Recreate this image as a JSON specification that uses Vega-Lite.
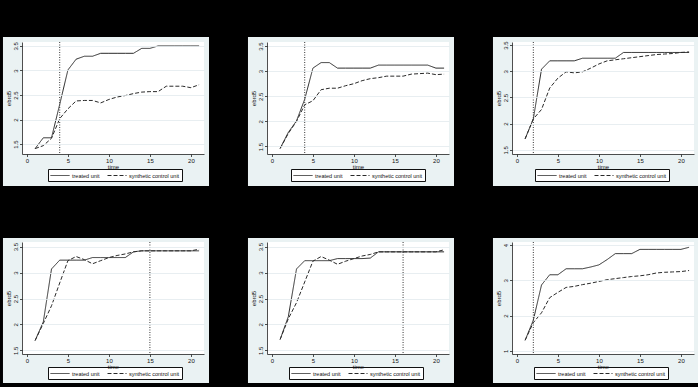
{
  "$schema": "https://vega.github.io/schema/vega-lite/v6.json",
  "background": "black",
  "padding": {"left": 2, "top": 36, "right": 0, "bottom": 5},
  "autosize": {"type": "pad"},
  "columns": 3,
  "bounds": "flush",
  "spacing": {"row": 88, "column": 63},
  "datasets": {
    "d": [
      {"panel":1,"time":1,"series":"treated unit","value":1.41},{"panel":1,"time":2,"series":"treated unit","value":1.63},{"panel":1,"time":3,"series":"treated unit","value":1.63},{"panel":1,"time":4,"series":"treated unit","value":2.31},{"panel":1,"time":5,"series":"treated unit","value":3.01},{"panel":1,"time":6,"series":"treated unit","value":3.23},{"panel":1,"time":7,"series":"treated unit","value":3.29},{"panel":1,"time":8,"series":"treated unit","value":3.29},{"panel":1,"time":9,"series":"treated unit","value":3.35},{"panel":1,"time":10,"series":"treated unit","value":3.35},{"panel":1,"time":11,"series":"treated unit","value":3.35},{"panel":1,"time":12,"series":"treated unit","value":3.35},{"panel":1,"time":13,"series":"treated unit","value":3.35},{"panel":1,"time":14,"series":"treated unit","value":3.45},{"panel":1,"time":15,"series":"treated unit","value":3.45},{"panel":1,"time":16,"series":"treated unit","value":3.5},{"panel":1,"time":17,"series":"treated unit","value":3.5},{"panel":1,"time":18,"series":"treated unit","value":3.5},{"panel":1,"time":19,"series":"treated unit","value":3.5},{"panel":1,"time":20,"series":"treated unit","value":3.5},{"panel":1,"time":21,"series":"treated unit","value":3.5},
      {"panel":1,"time":1,"series":"synthetic control unit","value":1.41},{"panel":1,"time":2,"series":"synthetic control unit","value":1.47},{"panel":1,"time":3,"series":"synthetic control unit","value":1.62},{"panel":1,"time":4,"series":"synthetic control unit","value":2.02},{"panel":1,"time":5,"series":"synthetic control unit","value":2.22},{"panel":1,"time":6,"series":"synthetic control unit","value":2.38},{"panel":1,"time":7,"series":"synthetic control unit","value":2.39},{"panel":1,"time":8,"series":"synthetic control unit","value":2.39},{"panel":1,"time":9,"series":"synthetic control unit","value":2.34},{"panel":1,"time":10,"series":"synthetic control unit","value":2.41},{"panel":1,"time":11,"series":"synthetic control unit","value":2.46},{"panel":1,"time":12,"series":"synthetic control unit","value":2.49},{"panel":1,"time":13,"series":"synthetic control unit","value":2.53},{"panel":1,"time":14,"series":"synthetic control unit","value":2.56},{"panel":1,"time":15,"series":"synthetic control unit","value":2.57},{"panel":1,"time":16,"series":"synthetic control unit","value":2.57},{"panel":1,"time":17,"series":"synthetic control unit","value":2.68},{"panel":1,"time":18,"series":"synthetic control unit","value":2.68},{"panel":1,"time":19,"series":"synthetic control unit","value":2.68},{"panel":1,"time":20,"series":"synthetic control unit","value":2.65},{"panel":1,"time":21,"series":"synthetic control unit","value":2.71},

      {"panel":2,"time":1,"series":"treated unit","value":1.46},{"panel":2,"time":2,"series":"treated unit","value":1.78},{"panel":2,"time":3,"series":"treated unit","value":2.01},{"panel":2,"time":4,"series":"treated unit","value":2.44},{"panel":2,"time":5,"series":"treated unit","value":3.06},{"panel":2,"time":6,"series":"treated unit","value":3.17},{"panel":2,"time":7,"series":"treated unit","value":3.17},{"panel":2,"time":8,"series":"treated unit","value":3.06},{"panel":2,"time":9,"series":"treated unit","value":3.06},{"panel":2,"time":10,"series":"treated unit","value":3.06},{"panel":2,"time":11,"series":"treated unit","value":3.06},{"panel":2,"time":12,"series":"treated unit","value":3.06},{"panel":2,"time":13,"series":"treated unit","value":3.12},{"panel":2,"time":14,"series":"treated unit","value":3.12},{"panel":2,"time":15,"series":"treated unit","value":3.12},{"panel":2,"time":16,"series":"treated unit","value":3.12},{"panel":2,"time":17,"series":"treated unit","value":3.12},{"panel":2,"time":18,"series":"treated unit","value":3.12},{"panel":2,"time":19,"series":"treated unit","value":3.12},{"panel":2,"time":20,"series":"treated unit","value":3.06},{"panel":2,"time":21,"series":"treated unit","value":3.06},
      {"panel":2,"time":1,"series":"synthetic control unit","value":1.46},{"panel":2,"time":2,"series":"synthetic control unit","value":1.76},{"panel":2,"time":3,"series":"synthetic control unit","value":2.0},{"panel":2,"time":4,"series":"synthetic control unit","value":2.33},{"panel":2,"time":5,"series":"synthetic control unit","value":2.41},{"panel":2,"time":6,"series":"synthetic control unit","value":2.63},{"panel":2,"time":7,"series":"synthetic control unit","value":2.66},{"panel":2,"time":8,"series":"synthetic control unit","value":2.66},{"panel":2,"time":9,"series":"synthetic control unit","value":2.71},{"panel":2,"time":10,"series":"synthetic control unit","value":2.75},{"panel":2,"time":11,"series":"synthetic control unit","value":2.81},{"panel":2,"time":12,"series":"synthetic control unit","value":2.85},{"panel":2,"time":13,"series":"synthetic control unit","value":2.87},{"panel":2,"time":14,"series":"synthetic control unit","value":2.9},{"panel":2,"time":15,"series":"synthetic control unit","value":2.9},{"panel":2,"time":16,"series":"synthetic control unit","value":2.9},{"panel":2,"time":17,"series":"synthetic control unit","value":2.94},{"panel":2,"time":18,"series":"synthetic control unit","value":2.95},{"panel":2,"time":19,"series":"synthetic control unit","value":2.96},{"panel":2,"time":20,"series":"synthetic control unit","value":2.93},{"panel":2,"time":21,"series":"synthetic control unit","value":2.94},

      {"panel":3,"time":1,"series":"treated unit","value":1.71},{"panel":3,"time":2,"series":"treated unit","value":2.09},{"panel":3,"time":3,"series":"treated unit","value":3.04},{"panel":3,"time":4,"series":"treated unit","value":3.2},{"panel":3,"time":5,"series":"treated unit","value":3.2},{"panel":3,"time":6,"series":"treated unit","value":3.2},{"panel":3,"time":7,"series":"treated unit","value":3.2},{"panel":3,"time":8,"series":"treated unit","value":3.25},{"panel":3,"time":9,"series":"treated unit","value":3.25},{"panel":3,"time":10,"series":"treated unit","value":3.25},{"panel":3,"time":11,"series":"treated unit","value":3.25},{"panel":3,"time":12,"series":"treated unit","value":3.25},{"panel":3,"time":13,"series":"treated unit","value":3.36},{"panel":3,"time":14,"series":"treated unit","value":3.36},{"panel":3,"time":15,"series":"treated unit","value":3.36},{"panel":3,"time":16,"series":"treated unit","value":3.36},{"panel":3,"time":17,"series":"treated unit","value":3.36},{"panel":3,"time":18,"series":"treated unit","value":3.36},{"panel":3,"time":19,"series":"treated unit","value":3.36},{"panel":3,"time":20,"series":"treated unit","value":3.36},{"panel":3,"time":21,"series":"treated unit","value":3.36},
      {"panel":3,"time":1,"series":"synthetic control unit","value":1.71},{"panel":3,"time":2,"series":"synthetic control unit","value":2.09},{"panel":3,"time":3,"series":"synthetic control unit","value":2.27},{"panel":3,"time":4,"series":"synthetic control unit","value":2.68},{"panel":3,"time":5,"series":"synthetic control unit","value":2.87},{"panel":3,"time":6,"series":"synthetic control unit","value":2.99},{"panel":3,"time":7,"series":"synthetic control unit","value":2.97},{"panel":3,"time":8,"series":"synthetic control unit","value":2.99},{"panel":3,"time":9,"series":"synthetic control unit","value":3.06},{"panel":3,"time":10,"series":"synthetic control unit","value":3.14},{"panel":3,"time":11,"series":"synthetic control unit","value":3.2},{"panel":3,"time":12,"series":"synthetic control unit","value":3.22},{"panel":3,"time":13,"series":"synthetic control unit","value":3.24},{"panel":3,"time":14,"series":"synthetic control unit","value":3.26},{"panel":3,"time":15,"series":"synthetic control unit","value":3.28},{"panel":3,"time":16,"series":"synthetic control unit","value":3.3},{"panel":3,"time":17,"series":"synthetic control unit","value":3.32},{"panel":3,"time":18,"series":"synthetic control unit","value":3.33},{"panel":3,"time":19,"series":"synthetic control unit","value":3.34},{"panel":3,"time":20,"series":"synthetic control unit","value":3.36},{"panel":3,"time":21,"series":"synthetic control unit","value":3.37},

      {"panel":4,"time":1,"series":"treated unit","value":1.69},{"panel":4,"time":2,"series":"treated unit","value":2.05},{"panel":4,"time":3,"series":"treated unit","value":3.07},{"panel":4,"time":4,"series":"treated unit","value":3.24},{"panel":4,"time":5,"series":"treated unit","value":3.24},{"panel":4,"time":6,"series":"treated unit","value":3.24},{"panel":4,"time":7,"series":"treated unit","value":3.24},{"panel":4,"time":8,"series":"treated unit","value":3.29},{"panel":4,"time":9,"series":"treated unit","value":3.29},{"panel":4,"time":10,"series":"treated unit","value":3.29},{"panel":4,"time":11,"series":"treated unit","value":3.29},{"panel":4,"time":12,"series":"treated unit","value":3.29},{"panel":4,"time":13,"series":"treated unit","value":3.4},{"panel":4,"time":14,"series":"treated unit","value":3.42},{"panel":4,"time":15,"series":"treated unit","value":3.42},{"panel":4,"time":16,"series":"treated unit","value":3.42},{"panel":4,"time":17,"series":"treated unit","value":3.42},{"panel":4,"time":18,"series":"treated unit","value":3.42},{"panel":4,"time":19,"series":"treated unit","value":3.42},{"panel":4,"time":20,"series":"treated unit","value":3.42},{"panel":4,"time":21,"series":"treated unit","value":3.42},
      {"panel":4,"time":1,"series":"synthetic control unit","value":1.69},{"panel":4,"time":2,"series":"synthetic control unit","value":2.02},{"panel":4,"time":3,"series":"synthetic control unit","value":2.36},{"panel":4,"time":4,"series":"synthetic control unit","value":2.8},{"panel":4,"time":5,"series":"synthetic control unit","value":3.23},{"panel":4,"time":6,"series":"synthetic control unit","value":3.31},{"panel":4,"time":7,"series":"synthetic control unit","value":3.25},{"panel":4,"time":8,"series":"synthetic control unit","value":3.17},{"panel":4,"time":9,"series":"synthetic control unit","value":3.23},{"panel":4,"time":10,"series":"synthetic control unit","value":3.29},{"panel":4,"time":11,"series":"synthetic control unit","value":3.33},{"panel":4,"time":12,"series":"synthetic control unit","value":3.36},{"panel":4,"time":13,"series":"synthetic control unit","value":3.4},{"panel":4,"time":14,"series":"synthetic control unit","value":3.42},{"panel":4,"time":15,"series":"synthetic control unit","value":3.42},{"panel":4,"time":16,"series":"synthetic control unit","value":3.42},{"panel":4,"time":17,"series":"synthetic control unit","value":3.42},{"panel":4,"time":18,"series":"synthetic control unit","value":3.42},{"panel":4,"time":19,"series":"synthetic control unit","value":3.42},{"panel":4,"time":20,"series":"synthetic control unit","value":3.42},{"panel":4,"time":21,"series":"synthetic control unit","value":3.45},

      {"panel":5,"time":1,"series":"treated unit","value":1.71},{"panel":5,"time":2,"series":"treated unit","value":2.15},{"panel":5,"time":3,"series":"treated unit","value":3.07},{"panel":5,"time":4,"series":"treated unit","value":3.23},{"panel":5,"time":5,"series":"treated unit","value":3.23},{"panel":5,"time":6,"series":"treated unit","value":3.23},{"panel":5,"time":7,"series":"treated unit","value":3.23},{"panel":5,"time":8,"series":"treated unit","value":3.27},{"panel":5,"time":9,"series":"treated unit","value":3.27},{"panel":5,"time":10,"series":"treated unit","value":3.27},{"panel":5,"time":11,"series":"treated unit","value":3.27},{"panel":5,"time":12,"series":"treated unit","value":3.28},{"panel":5,"time":13,"series":"treated unit","value":3.4},{"panel":5,"time":14,"series":"treated unit","value":3.4},{"panel":5,"time":15,"series":"treated unit","value":3.4},{"panel":5,"time":16,"series":"treated unit","value":3.4},{"panel":5,"time":17,"series":"treated unit","value":3.4},{"panel":5,"time":18,"series":"treated unit","value":3.4},{"panel":5,"time":19,"series":"treated unit","value":3.4},{"panel":5,"time":20,"series":"treated unit","value":3.4},{"panel":5,"time":21,"series":"treated unit","value":3.4},
      {"panel":5,"time":1,"series":"synthetic control unit","value":1.71},{"panel":5,"time":2,"series":"synthetic control unit","value":2.11},{"panel":5,"time":3,"series":"synthetic control unit","value":2.42},{"panel":5,"time":4,"series":"synthetic control unit","value":2.82},{"panel":5,"time":5,"series":"synthetic control unit","value":3.22},{"panel":5,"time":6,"series":"synthetic control unit","value":3.31},{"panel":5,"time":7,"series":"synthetic control unit","value":3.24},{"panel":5,"time":8,"series":"synthetic control unit","value":3.16},{"panel":5,"time":9,"series":"synthetic control unit","value":3.22},{"panel":5,"time":10,"series":"synthetic control unit","value":3.27},{"panel":5,"time":11,"series":"synthetic control unit","value":3.32},{"panel":5,"time":12,"series":"synthetic control unit","value":3.35},{"panel":5,"time":13,"series":"synthetic control unit","value":3.4},{"panel":5,"time":14,"series":"synthetic control unit","value":3.4},{"panel":5,"time":15,"series":"synthetic control unit","value":3.4},{"panel":5,"time":16,"series":"synthetic control unit","value":3.4},{"panel":5,"time":17,"series":"synthetic control unit","value":3.4},{"panel":5,"time":18,"series":"synthetic control unit","value":3.4},{"panel":5,"time":19,"series":"synthetic control unit","value":3.4},{"panel":5,"time":20,"series":"synthetic control unit","value":3.4},{"panel":5,"time":21,"series":"synthetic control unit","value":3.44},

      {"panel":6,"time":1,"series":"treated unit","value":1.3},{"panel":6,"time":2,"series":"treated unit","value":1.87},{"panel":6,"time":3,"series":"treated unit","value":2.87},{"panel":6,"time":4,"series":"treated unit","value":3.16},{"panel":6,"time":5,"series":"treated unit","value":3.16},{"panel":6,"time":6,"series":"treated unit","value":3.33},{"panel":6,"time":7,"series":"treated unit","value":3.33},{"panel":6,"time":8,"series":"treated unit","value":3.33},{"panel":6,"time":9,"series":"treated unit","value":3.38},{"panel":6,"time":10,"series":"treated unit","value":3.44},{"panel":6,"time":11,"series":"treated unit","value":3.59},{"panel":6,"time":12,"series":"treated unit","value":3.76},{"panel":6,"time":13,"series":"treated unit","value":3.76},{"panel":6,"time":14,"series":"treated unit","value":3.76},{"panel":6,"time":15,"series":"treated unit","value":3.88},{"panel":6,"time":16,"series":"treated unit","value":3.88},{"panel":6,"time":17,"series":"treated unit","value":3.88},{"panel":6,"time":18,"series":"treated unit","value":3.88},{"panel":6,"time":19,"series":"treated unit","value":3.88},{"panel":6,"time":20,"series":"treated unit","value":3.88},{"panel":6,"time":21,"series":"treated unit","value":3.94},
      {"panel":6,"time":1,"series":"synthetic control unit","value":1.3},{"panel":6,"time":2,"series":"synthetic control unit","value":1.8},{"panel":6,"time":3,"series":"synthetic control unit","value":2.08},{"panel":6,"time":4,"series":"synthetic control unit","value":2.51},{"panel":6,"time":5,"series":"synthetic control unit","value":2.66},{"panel":6,"time":6,"series":"synthetic control unit","value":2.8},{"panel":6,"time":7,"series":"synthetic control unit","value":2.83},{"panel":6,"time":8,"series":"synthetic control unit","value":2.88},{"panel":6,"time":9,"series":"synthetic control unit","value":2.92},{"panel":6,"time":10,"series":"synthetic control unit","value":2.97},{"panel":6,"time":11,"series":"synthetic control unit","value":3.02},{"panel":6,"time":12,"series":"synthetic control unit","value":3.05},{"panel":6,"time":13,"series":"synthetic control unit","value":3.08},{"panel":6,"time":14,"series":"synthetic control unit","value":3.11},{"panel":6,"time":15,"series":"synthetic control unit","value":3.13},{"panel":6,"time":16,"series":"synthetic control unit","value":3.16},{"panel":6,"time":17,"series":"synthetic control unit","value":3.21},{"panel":6,"time":18,"series":"synthetic control unit","value":3.23},{"panel":6,"time":19,"series":"synthetic control unit","value":3.24},{"panel":6,"time":20,"series":"synthetic control unit","value":3.25},{"panel":6,"time":21,"series":"synthetic control unit","value":3.28}
    ]
  },
  "concat": [
    {
      "width": 182, "height": 112,
      "layer": [
        {"data": {"values": [{}]}, "mark": {"type": "rect", "fill": "#eaf2f3"},
         "encoding": {"x": {"datum": -2.92, "type": "quantitative", "title": "time"}, "x2": {"datum": 22.21}, "y": {"datum": 0.648, "type": "quantitative", "title": "ebrd5"}, "y2": {"datum": 3.682}}},
        {"data": {"values": [{}]}, "mark": {"type": "rect", "fill": "#ffffff"},
         "encoding": {"x": {"datum": -0.6, "type": "quantitative", "title": "time"}, "x2": {"datum": 21.6}, "y": {"datum": 1.30, "type": "quantitative", "title": "ebrd5"}, "y2": {"datum": 3.58}}},
        {"data": {"name": "d"}, "transform": [{"filter": "datum.panel == 1"}],
         "mark": {"type": "line", "color": "#2a2a2a", "strokeWidth": 1},
         "encoding": {
           "x": {"field": "time", "type": "quantitative", "title": "time", "scale": {"domain": [-0.6, 21.6], "nice": false, "zero": false}, "axis": {"values": [0, 5, 10, 15, 20], "tickCount": 20, "format": "d", "zindex": 2}},
           "y": {"field": "value", "type": "quantitative", "title": "ebrd5", "scale": {"domain": [1.30, 3.58], "nice": false, "zero": false}, "axis": {"values": [1.5, 2, 2.5, 3, 3.5], "tickCount": 20, "format": ".2~g", "zindex": 2}},
           "strokeDash": {"field": "series", "type": "nominal", "scale": {"domain": ["treated unit", "synthetic control unit"], "range": [[1, 0], [4, 2]]},
             "legend": {"orient": "none", "legendX": 26, "legendY": 127, "direction": "horizontal", "columns": 2, "title": null, "symbolType": "M-1,0H3.75", "symbolSize": 64, "symbolStrokeColor": "#2a2a2a", "symbolStrokeWidth": 1, "labelOffset": 13, "columnPadding": 5, "gridAlign": "none"}}
         }},
        {"data": {"values": [{}]}, "mark": {"type": "rule", "color": "#333333", "strokeDash": [1, 1.5], "strokeWidth": 1},
         "encoding": {"x": {"datum": 4, "type": "quantitative", "title": "time"}}}
      ]
    },
    {
      "width": 182, "height": 112,
      "layer": [
        {"data": {"values": [{}]}, "mark": {"type": "rect", "fill": "#eaf2f3"},
         "encoding": {"x": {"datum": -2.92, "type": "quantitative", "title": "time"}, "x2": {"datum": 22.21}, "y": {"datum": 0.713, "type": "quantitative", "title": "ebrd5"}, "y2": {"datum": 3.68}}},
        {"data": {"values": [{}]}, "mark": {"type": "rect", "fill": "#ffffff"},
         "encoding": {"x": {"datum": -0.6, "type": "quantitative", "title": "time"}, "x2": {"datum": 21.6}, "y": {"datum": 1.35, "type": "quantitative", "title": "ebrd5"}, "y2": {"datum": 3.58}}},
        {"data": {"name": "d"}, "transform": [{"filter": "datum.panel == 2"}],
         "mark": {"type": "line", "color": "#2a2a2a", "strokeWidth": 1},
         "encoding": {
           "x": {"field": "time", "type": "quantitative", "title": "time", "scale": {"domain": [-0.6, 21.6], "nice": false, "zero": false}, "axis": {"values": [0, 5, 10, 15, 20], "tickCount": 20, "format": "d", "zindex": 2}},
           "y": {"field": "value", "type": "quantitative", "title": "ebrd5", "scale": {"domain": [1.35, 3.58], "nice": false, "zero": false}, "axis": {"values": [1.5, 2, 2.5, 3, 3.5], "tickCount": 20, "format": ".2~g", "zindex": 2}},
           "strokeDash": {"field": "series", "type": "nominal", "scale": {"domain": ["treated unit", "synthetic control unit"], "range": [[1, 0], [4, 2]]},
             "legend": {"orient": "none", "legendX": 24, "legendY": 127, "direction": "horizontal", "columns": 2, "title": null, "symbolType": "M-1,0H3.75", "symbolSize": 64, "symbolStrokeColor": "#2a2a2a", "symbolStrokeWidth": 1, "labelOffset": 13, "columnPadding": 5, "gridAlign": "none"}}
         }},
        {"data": {"values": [{}]}, "mark": {"type": "rule", "color": "#333333", "strokeDash": [1, 1.5], "strokeWidth": 1},
         "encoding": {"x": {"datum": 4, "type": "quantitative", "title": "time"}}}
      ]
    },
    {
      "width": 182, "height": 112,
      "layer": [
        {"data": {"values": [{}]}, "mark": {"type": "rect", "fill": "#eaf2f3"},
         "encoding": {"x": {"datum": -2.92, "type": "quantitative", "title": "time"}, "x2": {"datum": 22.21}, "y": {"datum": 0.809, "type": "quantitative", "title": "ebrd5"}, "y2": {"datum": 3.656}}},
        {"data": {"values": [{}]}, "mark": {"type": "rect", "fill": "#ffffff"},
         "encoding": {"x": {"datum": -0.6, "type": "quantitative", "title": "time"}, "x2": {"datum": 21.6}, "y": {"datum": 1.42, "type": "quantitative", "title": "ebrd5"}, "y2": {"datum": 3.56}}},
        {"data": {"name": "d"}, "transform": [{"filter": "datum.panel == 3"}],
         "mark": {"type": "line", "color": "#2a2a2a", "strokeWidth": 1},
         "encoding": {
           "x": {"field": "time", "type": "quantitative", "title": "time", "scale": {"domain": [-0.6, 21.6], "nice": false, "zero": false}, "axis": {"values": [0, 5, 10, 15, 20], "tickCount": 20, "format": "d", "zindex": 2}},
           "y": {"field": "value", "type": "quantitative", "title": "ebrd5", "scale": {"domain": [1.42, 3.56], "nice": false, "zero": false}, "axis": {"values": [1.5, 2, 2.5, 3, 3.5], "tickCount": 20, "format": ".2~g", "zindex": 2}},
           "strokeDash": {"field": "series", "type": "nominal", "scale": {"domain": ["treated unit", "synthetic control unit"], "range": [[1, 0], [4, 2]]},
             "legend": {"orient": "none", "legendX": 23, "legendY": 127, "direction": "horizontal", "columns": 2, "title": null, "symbolType": "M-1,0H3.75", "symbolSize": 64, "symbolStrokeColor": "#2a2a2a", "symbolStrokeWidth": 1, "labelOffset": 13, "columnPadding": 5, "gridAlign": "none"}}
         }},
        {"data": {"values": [{}]}, "mark": {"type": "rule", "color": "#333333", "strokeDash": [1, 1.5], "strokeWidth": 1},
         "encoding": {"x": {"datum": 2, "type": "quantitative", "title": "time"}}}
      ]
    },
    {
      "width": 182, "height": 112,
      "layer": [
        {"data": {"values": [{}]}, "mark": {"type": "rect", "fill": "#eaf2f3"},
         "encoding": {"x": {"datum": -2.92, "type": "quantitative", "title": "time"}, "x2": {"datum": 22.21}, "y": {"datum": 0.871, "type": "quantitative", "title": "ebrd5"}, "y2": {"datum": 3.667}}},
        {"data": {"values": [{}]}, "mark": {"type": "rect", "fill": "#ffffff"},
         "encoding": {"x": {"datum": -0.6, "type": "quantitative", "title": "time"}, "x2": {"datum": 21.6}, "y": {"datum": 1.43, "type": "quantitative", "title": "ebrd5"}, "y2": {"datum": 3.59}}},
        {"data": {"name": "d"}, "transform": [{"filter": "datum.panel == 4"}],
         "mark": {"type": "line", "color": "#2a2a2a", "strokeWidth": 1},
         "encoding": {
           "x": {"field": "time", "type": "quantitative", "title": "time", "scale": {"domain": [-0.6, 21.6], "nice": false, "zero": false}, "axis": {"values": [0, 5, 10, 15, 20], "tickCount": 20, "format": "d", "zindex": 2}},
           "y": {"field": "value", "type": "quantitative", "title": "ebrd5", "scale": {"domain": [1.43, 3.59], "nice": false, "zero": false}, "axis": {"values": [1.5, 2, 2.5, 3, 3.5], "tickCount": 20, "format": ".2~g", "zindex": 2}},
           "strokeDash": {"field": "series", "type": "nominal", "scale": {"domain": ["treated unit", "synthetic control unit"], "range": [[1, 0], [4, 2]]},
             "legend": {"orient": "none", "legendX": 26, "legendY": 125, "direction": "horizontal", "columns": 2, "title": null, "symbolType": "M-1,0H3.75", "symbolSize": 64, "symbolStrokeColor": "#2a2a2a", "symbolStrokeWidth": 1, "labelOffset": 13, "columnPadding": 5, "gridAlign": "none"}}
         }},
        {"data": {"values": [{}]}, "mark": {"type": "rule", "color": "#333333", "strokeDash": [1, 1.5], "strokeWidth": 1},
         "encoding": {"x": {"datum": 15, "type": "quantitative", "title": "time"}}}
      ]
    },
    {
      "width": 182, "height": 112,
      "layer": [
        {"data": {"values": [{}]}, "mark": {"type": "rect", "fill": "#eaf2f3"},
         "encoding": {"x": {"datum": -2.92, "type": "quantitative", "title": "time"}, "x2": {"datum": 22.21}, "y": {"datum": 0.871, "type": "quantitative", "title": "ebrd5"}, "y2": {"datum": 3.667}}},
        {"data": {"values": [{}]}, "mark": {"type": "rect", "fill": "#ffffff"},
         "encoding": {"x": {"datum": -0.6, "type": "quantitative", "title": "time"}, "x2": {"datum": 21.6}, "y": {"datum": 1.43, "type": "quantitative", "title": "ebrd5"}, "y2": {"datum": 3.59}}},
        {"data": {"name": "d"}, "transform": [{"filter": "datum.panel == 5"}],
         "mark": {"type": "line", "color": "#2a2a2a", "strokeWidth": 1},
         "encoding": {
           "x": {"field": "time", "type": "quantitative", "title": "time", "scale": {"domain": [-0.6, 21.6], "nice": false, "zero": false}, "axis": {"values": [0, 5, 10, 15, 20], "tickCount": 20, "format": "d", "zindex": 2}},
           "y": {"field": "value", "type": "quantitative", "title": "ebrd5", "scale": {"domain": [1.43, 3.59], "nice": false, "zero": false}, "axis": {"values": [1.5, 2, 2.5, 3, 3.5], "tickCount": 20, "format": ".2~g", "zindex": 2}},
           "strokeDash": {"field": "series", "type": "nominal", "scale": {"domain": ["treated unit", "synthetic control unit"], "range": [[1, 0], [4, 2]]},
             "legend": {"orient": "none", "legendX": 22, "legendY": 125, "direction": "horizontal", "columns": 2, "title": null, "symbolType": "M-1,0H3.75", "symbolSize": 64, "symbolStrokeColor": "#2a2a2a", "symbolStrokeWidth": 1, "labelOffset": 13, "columnPadding": 5, "gridAlign": "none"}}
         }},
        {"data": {"values": [{}]}, "mark": {"type": "rule", "color": "#333333", "strokeDash": [1, 1.5], "strokeWidth": 1},
         "encoding": {"x": {"datum": 16, "type": "quantitative", "title": "time"}}}
      ]
    },
    {
      "width": 182, "height": 112,
      "layer": [
        {"data": {"values": [{}]}, "mark": {"type": "rect", "fill": "#eaf2f3"},
         "encoding": {"x": {"datum": -2.92, "type": "quantitative", "title": "time"}, "x2": {"datum": 22.21}, "y": {"datum": 0.087, "type": "quantitative", "title": "ebrd5"}, "y2": {"datum": 4.204}}},
        {"data": {"values": [{}]}, "mark": {"type": "rect", "fill": "#ffffff"},
         "encoding": {"x": {"datum": -0.6, "type": "quantitative", "title": "time"}, "x2": {"datum": 21.6}, "y": {"datum": 0.91, "type": "quantitative", "title": "ebrd5"}, "y2": {"datum": 4.09}}},
        {"data": {"name": "d"}, "transform": [{"filter": "datum.panel == 6"}],
         "mark": {"type": "line", "color": "#2a2a2a", "strokeWidth": 1},
         "encoding": {
           "x": {"field": "time", "type": "quantitative", "title": "time", "scale": {"domain": [-0.6, 21.6], "nice": false, "zero": false}, "axis": {"values": [0, 5, 10, 15, 20], "tickCount": 20, "format": "d", "zindex": 2}},
           "y": {"field": "value", "type": "quantitative", "title": "ebrd5", "scale": {"domain": [0.91, 4.09], "nice": false, "zero": false}, "axis": {"values": [1, 2, 3, 4], "tickCount": 20, "format": ".2~g", "zindex": 2}},
           "strokeDash": {"field": "series", "type": "nominal", "scale": {"domain": ["treated unit", "synthetic control unit"], "range": [[1, 0], [4, 2]]},
             "legend": {"orient": "none", "legendX": 22, "legendY": 125, "direction": "horizontal", "columns": 2, "title": null, "symbolType": "M-1,0H3.75", "symbolSize": 64, "symbolStrokeColor": "#2a2a2a", "symbolStrokeWidth": 1, "labelOffset": 13, "columnPadding": 5, "gridAlign": "none"}}
         }},
        {"data": {"values": [{}]}, "mark": {"type": "rule", "color": "#333333", "strokeDash": [1, 1.5], "strokeWidth": 1},
         "encoding": {"x": {"datum": 2, "type": "quantitative", "title": "time"}}}
      ]
    }
  ],
  "resolve": {
    "scale": {"x": "independent", "y": "independent", "strokeDash": "independent"},
    "legend": {"strokeDash": "independent"},
    "axis": {"x": "independent", "y": "independent"}
  },
  "config": {
    "view": {"stroke": null},
    "font": "Liberation Sans",
    "axis": {
      "domainColor": "#222222", "tickColor": "#222222", "domainWidth": 0.8, "tickWidth": 0.8, "tickSize": 2.5,
      "labelColor": "#111111", "titleColor": "#111111", "labelFont": "Liberation Sans", "titleFont": "Liberation Sans",
      "labelFontSize": 6, "titleFontSize": 6, "titleFontWeight": "normal", "labelPadding": 1,
      "labelFlush": false, "labelOverlap": false
    },
    "axisX": {"grid": false, "titlePadding": 0},
    "axisY": {"grid": true, "gridColor": "#e2eaed", "gridWidth": 0.8, "labelAngle": 270, "labelAlign": "center", "labelBaseline": "bottom", "titlePadding": 1},
    "legend": {
      "labelFont": "Liberation Sans", "labelFontSize": 5.5, "labelColor": "#111111",
      "strokeColor": "#111111", "fillColor": "#ffffff", "padding": 2, "rowPadding": 0, "cornerRadius": 0
    }
  }
}
